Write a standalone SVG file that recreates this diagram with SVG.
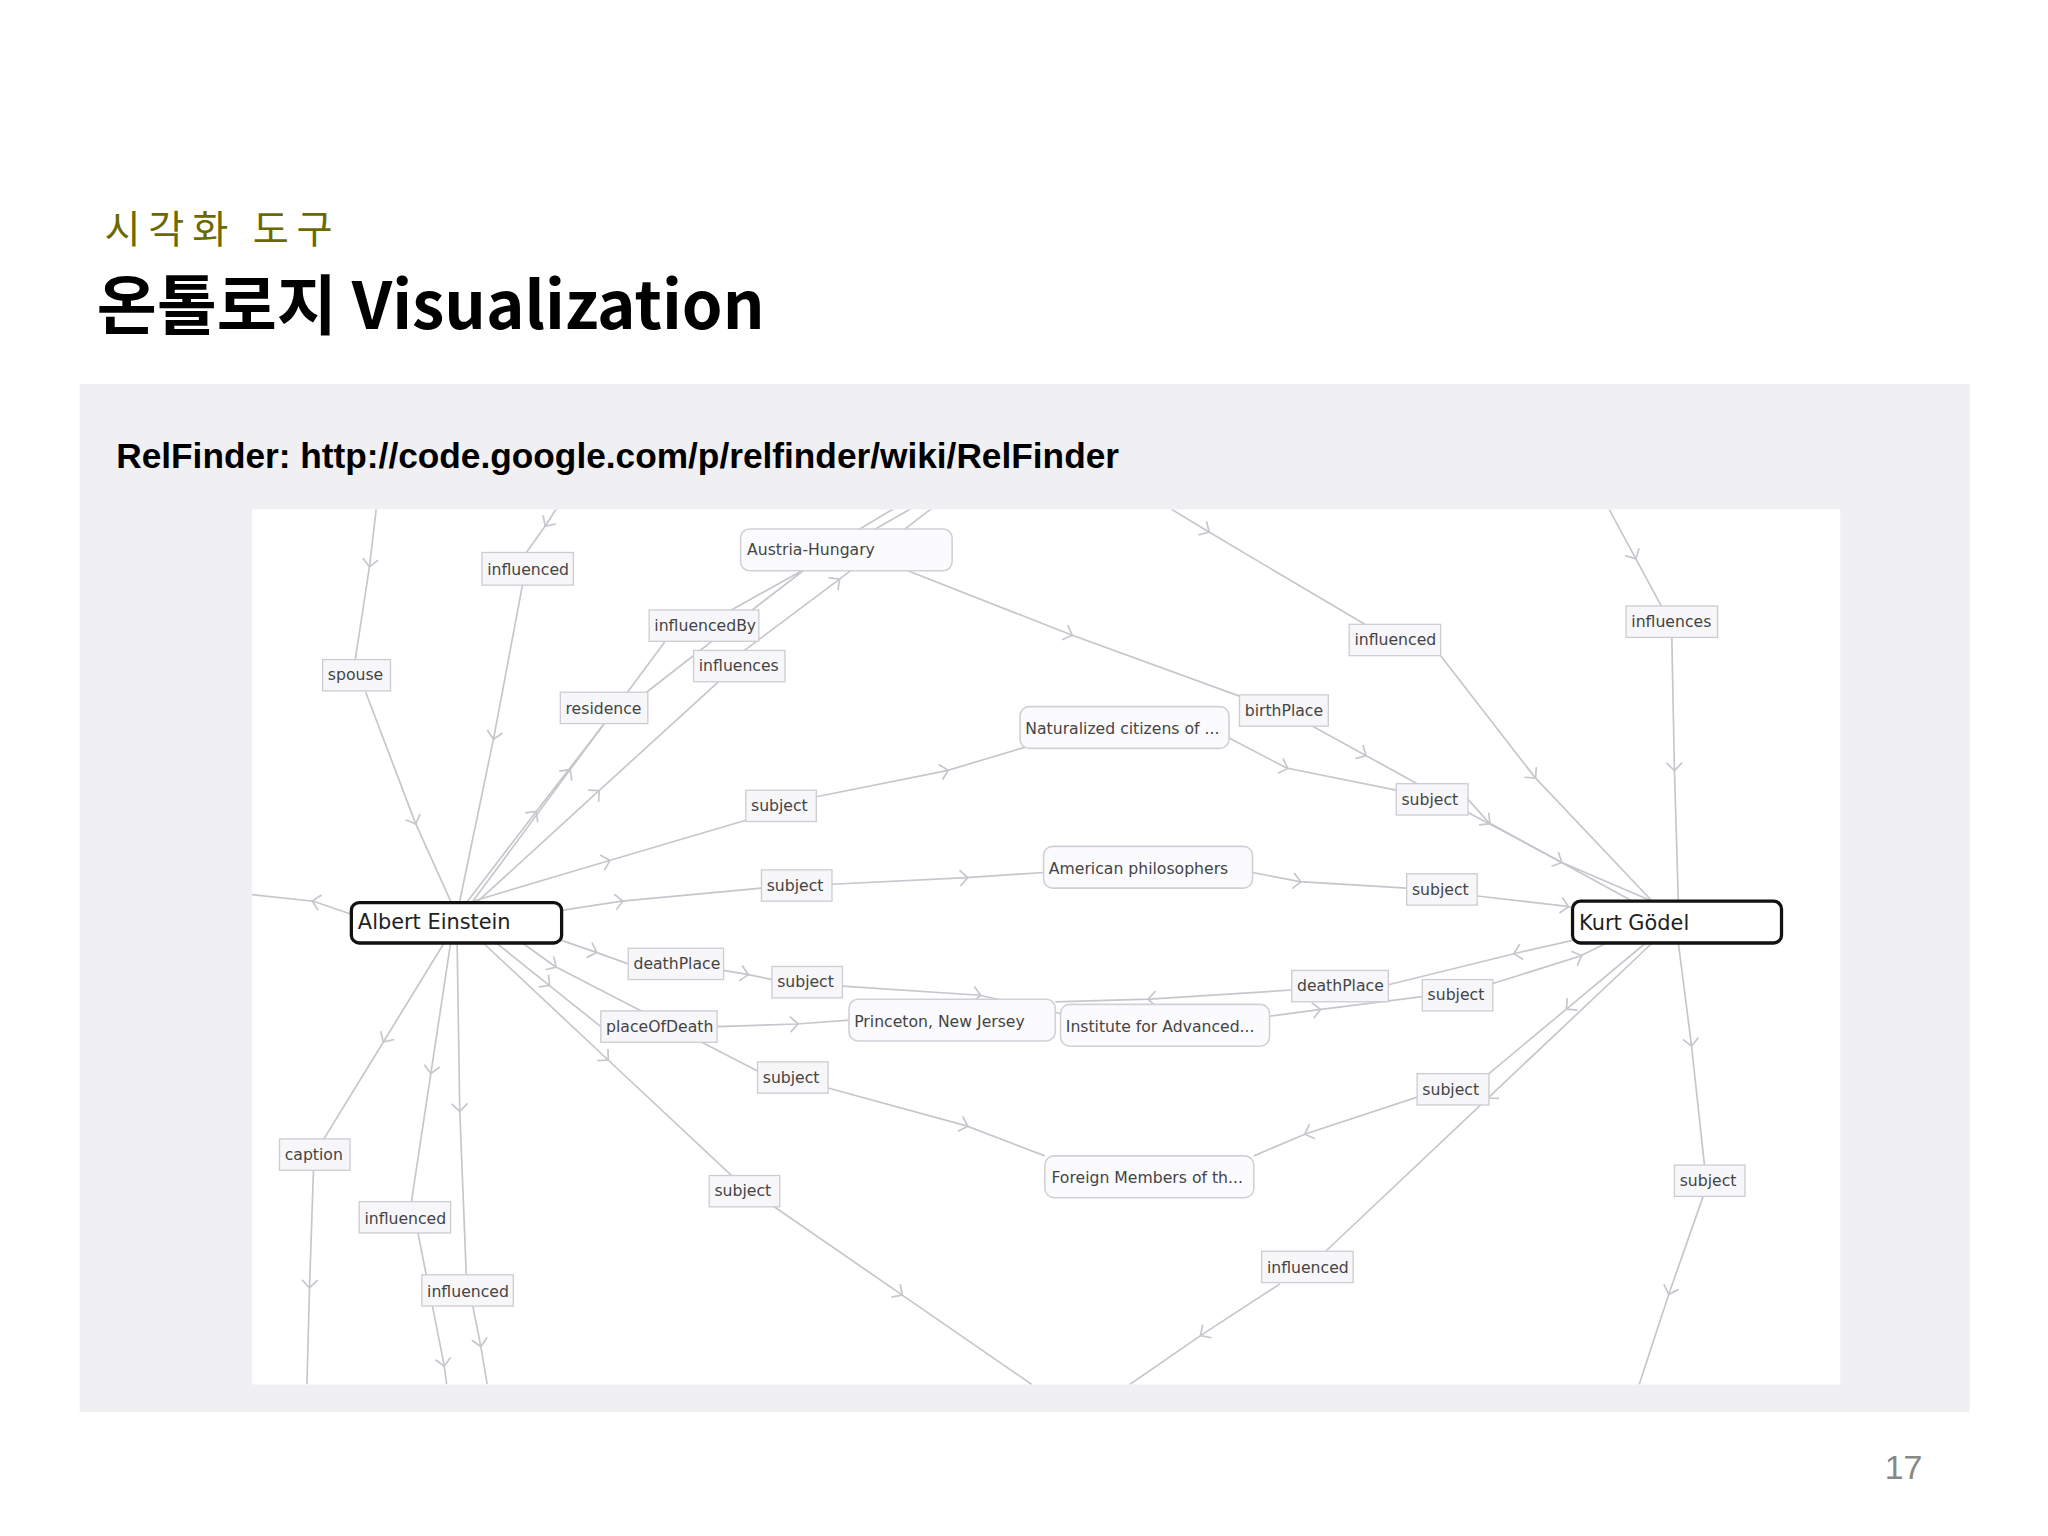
<svg xmlns="http://www.w3.org/2000/svg" width="2048" height="1536" viewBox="0 0 2048 1536">
<style>
.e{fill:none;stroke:#c9c5cd;stroke-width:1.3;marker-mid:url(#ch)}
.lb rect{fill:#f7f6f8;stroke:#cfcbd2;stroke-width:1}
.lb text,.nd text{font-family:"DejaVu Sans",sans-serif;font-size:12px;fill:#444}
.nd rect{fill:#fbfafc;stroke:#d2cfd6;stroke-width:1.2}
.mn rect{fill:#fff;stroke:#111;stroke-width:2.5}
.mn text{font-family:"DejaVu Sans",sans-serif;font-size:16px;fill:#222}
</style>
<defs>
<marker id="ch" markerWidth="14" markerHeight="14" refX="7" refY="7" orient="auto" markerUnits="userSpaceOnUse"><path d="M2,1 L8,7 L2,13" fill="none" stroke="#c9c5cd" stroke-width="1.3"/></marker>
<clipPath id="cp"><rect x="193" y="390" width="1216" height="670"/></clipPath>
</defs>
<rect width="2048" height="1536" fill="#fff"/>
<g transform="scale(1.3061)">
<text x="80" y="186" font-family="'Noto Sans CJK KR',sans-serif" font-size="30" fill="#6b6a00" letter-spacing="6">시각화 도구</text>
<text x="74" y="252" font-family="'Noto Sans CJK KR','Liberation Sans',sans-serif" font-size="50" font-weight="bold" fill="#000">온톨로지 Visualization</text>
<rect x="61" y="294" width="1447" height="787" fill="#f0eff2"/>
<text x="89" y="358" font-family="'Liberation Sans',sans-serif" font-size="27" font-weight="bold" fill="#000">RelFinder: http://code.google.com/p/relfinder/wiki/RelFinder</text>
<rect x="193" y="390" width="1216" height="670" fill="#fff"/>
<text x="1443" y="1132" font-family="'Liberation Sans',sans-serif" font-size="26" fill="#888">17</text>
<g id="connectors" clip-path="url(#cp)">
<path class="e" d="M288,390 L283,433 L272,505"/><path class="e" d="M280,530 L318,630 L345,690"/>
<path class="e" d="M432,380 L418,402 L403,423"/><path class="e" d="M400,448 L378,565 L352,690"/>
<path class="e" d="M358,690 L410,622 L462,555"/><path class="e" d="M495,530 L572,470 L650,410 L700,380"/>
<path class="e" d="M362,690 L436,590 L510,490"/><path class="e" d="M560,467 L630,428 L700,388"/>
<path class="e" d="M366,690 L458,606 L550,522"/><path class="e" d="M570,498 L642,444 L715,388"/>
<path class="e" d="M362,690 L466,659 L571,628"/><path class="e" d="M625,610 L725,590 L785,572"/>
<path class="e" d="M430,697 L476,690 L583,680"/><path class="e" d="M637,677 L740,672 L799,668"/>
<path class="e" d="M430,720 L456,729 L481,738"/><path class="e" d="M554,743 L572,746 L591,750"/><path class="e" d="M645,755 L750,762 L812,776"/>
<path class="e" d="M380,722 L420,754 L460,786"/><path class="e" d="M549,786 L610,784 L650,781"/>
<path class="e" d="M400,722 L425,740 L580,820"/><path class="e" d="M634,833 L740,862 L800,885"/>
<path class="e" d="M370,722 L465,811 L560,900"/><path class="e" d="M590,922 L690,991 L790,1060"/>
<path class="e" d="M340,722 L294,797 L248,872"/><path class="e" d="M240,896 L237,985 L235,1060"/>
<path class="e" d="M345,722 L330,821 L315,920"/><path class="e" d="M320,944 L340,1045 L342,1060"/>
<path class="e" d="M350,722 L352,850 L357,976"/><path class="e" d="M362,1000 L368,1030 L373,1060"/>
<path class="e" d="M269,700 L240,690 L193,685"/>
<path class="e" d="M1232,390 L1252,427 L1272,464"/><path class="e" d="M1280,488 L1282,589 L1285,690"/>
<path class="e" d="M897,390 L925,407 L1045,478"/><path class="e" d="M1103,502 L1175,595 L1265,690"/>
<path class="e" d="M695,437 L820,486 L949,533"/><path class="e" d="M1005,556 L1045,578 L1085,600"/><path class="e" d="M1124,622 L1195,660 L1265,690"/>
<path class="e" d="M941,565 L985,588 L1069,605"/><path class="e" d="M1124,612 L1140,630 L1250,690"/>
<path class="e" d="M959,668 L995,675 L1077,680"/><path class="e" d="M1131,686 L1200,694 L1204,695"/>
<path class="e" d="M1204,720 L1160,730 L1063,754"/><path class="e" d="M989,758 L880,765 L808,767"/>
<path class="e" d="M972,778 L1010,773 L1089,763"/><path class="e" d="M1143,753 L1210,732 L1230,722"/>
<path class="e" d="M1260,722 L1200,772 L1140,822"/><path class="e" d="M1085,840 L1000,868 L960,885"/>
<path class="e" d="M1265,722 L1140,840 L1015,958"/><path class="e" d="M980,983 L920,1022 L865,1060"/>
<path class="e" d="M1285,722 L1295,800 L1305,892"/><path class="e" d="M1304,916 L1278,990 L1255,1060"/>
</g>
<g id="n-einstein" class="mn"><rect x="269" y="691" width="161" height="31" rx="6"/><text x="274" y="711">Albert Einstein</text></g>
<g id="n-godel" class="mn"><rect x="1204" y="690" width="160" height="32" rx="6"/><text x="1209" y="712">Kurt Gödel</text></g>
<g id="n-austria" class="nd"><rect x="567" y="405" width="162" height="32" rx="7"/><text x="572" y="425">Austria-Hungary</text></g>
<g id="n-natur" class="nd"><rect x="781" y="541" width="160" height="32" rx="7"/><text x="785" y="562">Naturalized citizens of ...</text></g>
<g id="n-amphil" class="nd"><rect x="799" y="648" width="160" height="32" rx="7"/><text x="803" y="669">American philosophers</text></g>
<g id="n-princeton" class="nd"><rect x="650" y="765" width="158" height="32" rx="7"/><text x="654" y="786">Princeton, New Jersey</text></g>
<g id="n-institute" class="nd"><rect x="812" y="769" width="160" height="32" rx="7"/><text x="816" y="790">Institute for Advanced...</text></g>
<g id="n-foreign" class="nd"><rect x="800" y="885" width="160" height="32" rx="7"/><text x="805" y="906">Foreign Members of th...</text></g>
<g id="l1" class="lb"><rect x="369" y="423" width="70" height="25"/><text x="373" y="440">influenced</text></g>
<g id="l2" class="lb"><rect x="497" y="467" width="84" height="24"/><text x="501" y="483">influencedBy</text></g>
<g id="l3" class="lb"><rect x="531" y="498" width="70" height="24"/><text x="535" y="514">influences</text></g>
<g id="l4" class="lb"><rect x="247" y="505" width="52" height="24"/><text x="251" y="521">spouse</text></g>
<g id="l5" class="lb"><rect x="429" y="530" width="67" height="24"/><text x="433" y="547">residence</text></g>
<g id="l6" class="lb"><rect x="1033" y="478" width="70" height="24"/><text x="1037" y="494">influenced</text></g>
<g id="l7" class="lb"><rect x="1245" y="464" width="70" height="24"/><text x="1249" y="480">influences</text></g>
<g id="l8" class="lb"><rect x="949" y="532" width="68" height="24"/><text x="953" y="548">birthPlace</text></g>
<g id="l9" class="lb"><rect x="571" y="605" width="54" height="24"/><text x="575" y="621">subject</text></g>
<g id="l10" class="lb"><rect x="1069" y="600" width="55" height="24"/><text x="1073" y="616">subject</text></g>
<g id="l11" class="lb"><rect x="583" y="666" width="54" height="24"/><text x="587" y="682">subject</text></g>
<g id="l12" class="lb"><rect x="1077" y="669" width="54" height="24"/><text x="1081" y="685">subject</text></g>
<g id="l13" class="lb"><rect x="481" y="726" width="73" height="24"/><text x="485" y="742">deathPlace</text></g>
<g id="l14" class="lb"><rect x="591" y="740" width="54" height="24"/><text x="595" y="756">subject</text></g>
<g id="l15" class="lb"><rect x="989" y="743" width="74" height="24"/><text x="993" y="759">deathPlace</text></g>
<g id="l16" class="lb"><rect x="1089" y="750" width="54" height="24"/><text x="1093" y="766">subject</text></g>
<g id="l17" class="lb"><rect x="460" y="774" width="89" height="24"/><text x="464" y="790">placeOfDeath</text></g>
<g id="l18" class="lb"><rect x="580" y="813" width="54" height="24"/><text x="584" y="829">subject</text></g>
<g id="l19" class="lb"><rect x="1085" y="822" width="55" height="24"/><text x="1089" y="838">subject</text></g>
<g id="l20" class="lb"><rect x="214" y="872" width="54" height="24"/><text x="218" y="888">caption</text></g>
<g id="l21" class="lb"><rect x="543" y="900" width="54" height="24"/><text x="547" y="916">subject</text></g>
<g id="l22" class="lb"><rect x="1282" y="892" width="54" height="24"/><text x="1286" y="908">subject</text></g>
<g id="l23" class="lb"><rect x="275" y="920" width="70" height="24"/><text x="279" y="937">influenced</text></g>
<g id="l24" class="lb"><rect x="966" y="958" width="70" height="24"/><text x="970" y="975">influenced</text></g>
<g id="l25" class="lb"><rect x="323" y="976" width="70" height="24"/><text x="327" y="993">influenced</text></g>
</g>
</svg>
